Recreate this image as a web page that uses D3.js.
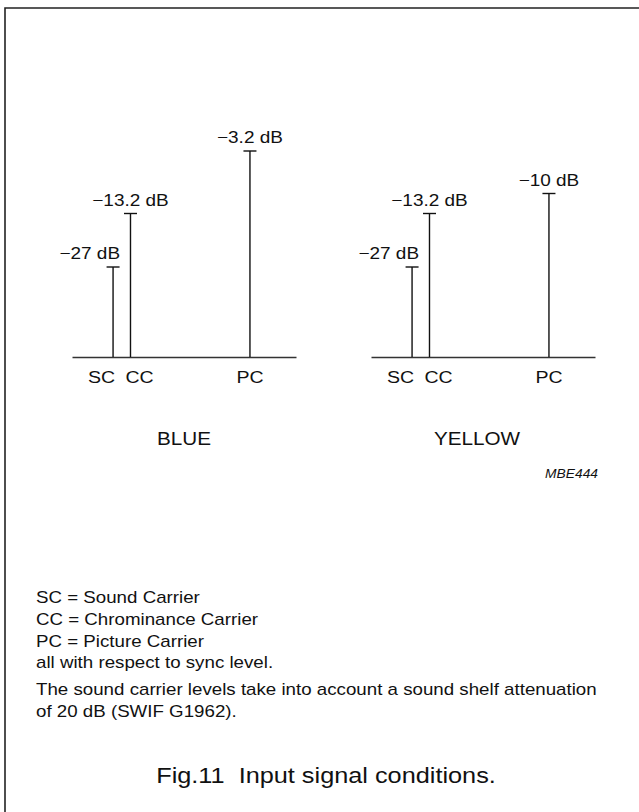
<!DOCTYPE html>
<html>
<head>
<meta charset="utf-8">
<script src="https://cdn.jsdelivr.net/npm/d3@7"></script>
<style>
    body { margin: 0; background: #fff; }
    text { font-family: "Liberation Sans", Arial, sans-serif; fill: #111; }
</style>
</head>
<body>
<svg id="chart" width="639" height="812"></svg>
<script>
const categories = ['SC', 'CC', 'PC']
const carrierMHz = [-5.5, -4.8, 0]          // offset from picture carrier (schematic)
const panels = ['BLUE', 'YELLOW']
const blueLevels = [-27, -13.2, -3.2]       // dB
const yellowLevels = [-27, -13.2, -10]      // dB
const notes = [
    'SC = Sound Carrier',
    'CC = Chrominance Carrier',
    'PC = Picture Carrier',
    'all with respect to sync level.'
]
const remark = [
    'The sound carrier levels take into account a sound shelf attenuation',
    'of 20 dB (SWIF G1962).'
]
const figTitle = 'Fig.11  Input signal conditions.'
const figCode = 'MBE444'

let svg = d3.select('#chart')
let sx = 1.15 // the scanned figure is a little wider than it is high
let panelWidth = 224
let panelLeft = [72, 371]
let baseY = 357
let capHalf = 6.5

// stretched text helper
function place(sel, x, y, s) {
    return sel.attr('transform', `translate(${x},${y}) scale(${s || sx},1)`)
}

// frame (only top and left are in the crop)
svg.append('path')
    .attr('d', 'M5,812V8H639')
    .attr('fill', 'none')
    .attr('stroke', '#222')
    .attr('stroke-width', 1.6)

let xScale = d3.scaleLinear()
    .domain([-7.15, 1.85])
    .range([0, panelWidth])

// level scale is schematic in the original, not linear in dB
let yScale = d3.scaleLinear()
    .domain([-27, -13.2, -3.2])
    .range([267, 213.5, 151])

let fmt = (v) => '\u2212' + Math.abs(v) + ' dB'

let panelData = panels.map((name, i) => ({
    name: name,
    levels: i === 0 ? blueLevels : yellowLevels
}))

let panel = svg.selectAll('g.panel')
    .data(panelData)
    .enter()
    .append('g')
    .attr('class', 'panel')
    .attr('transform', (d, i) => 'translate(' + panelLeft[i] + ',0)')

// frequency axis, drawn without ticks
panel.append('g')
    .attr('transform', 'translate(0,' + baseY + ')')
    .each(function () {
        d3.select(this).call(d3.axisBottom(xScale).ticks(0).tickSizeOuter(0))
    })
    .select('.domain')
    .attr('stroke', '#333')
    .attr('stroke-width', 1.5)

let carrier = panel.selectAll('g.carrier')
    .data((d) => categories.map((c, j) => ({ cat: c, f: carrierMHz[j], v: d.levels[j] })))
    .enter()
    .append('g')
    .attr('class', 'carrier')

carrier.append('line')
    .attr('x1', (d) => xScale(d.f))
    .attr('x2', (d) => xScale(d.f))
    .attr('y1', baseY)
    .attr('y2', (d) => yScale(d.v))
    .attr('stroke', '#111')
    .attr('stroke-width', 1.4)

carrier.append('line')
    .attr('x1', (d) => xScale(d.f) - capHalf)
    .attr('x2', (d) => xScale(d.f) + capHalf)
    .attr('y1', (d) => yScale(d.v))
    .attr('y2', (d) => yScale(d.v))
    .attr('stroke', '#111')
    .attr('stroke-width', 1.4)

// level labels
carrier.append('text')
    .attr('font-size', 16.5)
    .attr('text-anchor', (d) => d.cat === 'SC' ? 'end' : 'middle')
    .each(function (d) {
        let x = xScale(d.f) + (d.cat === 'SC' ? 7 : 0)
        place(d3.select(this), x, yScale(d.v) - 8)
    })
    .text((d) => fmt(d.v))

// carrier names under the axis
carrier.append('text')
    .attr('font-size', 17)
    .attr('text-anchor', (d) => d.cat === 'SC' ? 'end' : d.cat === 'CC' ? 'start' : 'middle')
    .each(function (d) {
        let x = xScale(d.f) + (d.cat === 'SC' ? 2 : d.cat === 'CC' ? -5 : 0)
        place(d3.select(this), x, 383)
    })
    .text((d) => d.cat)

// panel names
panel.append('text')
    .attr('font-size', 18)
    .attr('text-anchor', 'middle')
    .each(function (d, i) {
        place(d3.select(this), panelWidth / 2 - (i * 6), 445)
    })
    .text((d) => d.name)

place(svg.append('text'), 598, 478)
    .attr('font-size', 12)
    .attr('font-style', 'italic')
    .attr('text-anchor', 'end')
    .text(figCode)

// notes
svg.append('g')
    .selectAll('text')
    .data(notes.concat(remark))
    .enter()
    .append('text')
    .attr('font-size', 16)
    .each(function (d, i) {
        let y = 603 + i * 21.8 + (i >= notes.length ? 5 : 0)
        place(d3.select(this), 36, y, 1.17)
    })
    .text((d) => d)

place(svg.append('text'), 326, 783)
    .attr('font-size', 22)
    .attr('text-anchor', 'middle')
    .attr('xml:space', 'preserve')
    .style('white-space', 'pre')
    .text(figTitle)
</script>
</body>
</html>
